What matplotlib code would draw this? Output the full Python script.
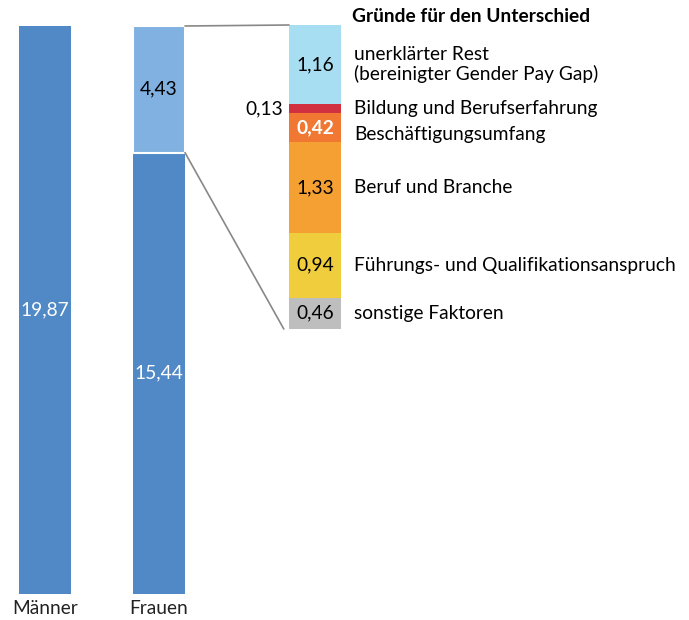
import matplotlib
matplotlib.use("Agg")
import matplotlib.pyplot as plt
from matplotlib.patches import ConnectionPatch

plt.rcParams['font.family'] = ['Lato', 'DejaVu Sans']

# data
groups = ["Männer", "Frauen"]
maenner = 19.87
frauen_basis = 15.44
frauen_luecke = 4.43

# bottom -> top
gruende = ["sonstige Faktoren",
           "Führungs- und Qualifikationsanspruch",
           "Beruf und Branche",
           "Beschäftigungsumfang",
           "Bildung und Berufserfahrung",
           "unerklärter Rest\n(bereinigter Gender Pay Gap)"]
gruende_werte = [0.46, 0.94, 1.33, 0.42, 0.13, 1.16]
gruende_farben = ["#bebebe", "#efcd3c", "#f5a033", "#f07832", "#d03040", "#a8def2"]
label_farben = ["black", "black", "black", "white", "black", "black"]

W, H = 689, 620
fig = plt.figure(figsize=(W / 100, H / 100), dpi=100)

# main bars
bw = 52 / 114
ax = fig.add_axes([19 / W, (H - 594) / H, (185 - 19) / W, 568 / H])
ax.set_xlim(-bw / 2, 1 + bw / 2)
ax.set_ylim(0, maenner)
ax.axis("off")

ax.bar(0, maenner, width=bw, color="#5089c6")
ax.bar(1, frauen_basis, width=bw, color="#5089c6")
ax.bar(1, frauen_luecke, bottom=frauen_basis, width=bw, color="#80b1e0",
       edgecolor="white", linewidth=1.5)

fmt = lambda v: f"{v:.2f}".replace(".", ",")
fs = 13.8
ax.text(0, maenner / 2, fmt(maenner), color="white", ha="center", va="center", fontsize=fs)
ax.text(1, frauen_basis / 2, fmt(frauen_basis), color="white", ha="center", va="center", fontsize=fs)
ax.text(1, frauen_basis + frauen_luecke / 2, fmt(frauen_luecke), color="black",
        ha="center", va="center", fontsize=fs)
for i, g in enumerate(groups):
    ax.text(i, -0.22, g, ha="center", va="top", fontsize=fs, color="#222222")

# breakdown bar
total = sum(gruende_werte)
ax2 = fig.add_axes([289 / W, (H - 329) / H, 52 / W, 304 / H])
ax2.set_xlim(-0.5, 0.5)
ax2.set_ylim(0, total)
ax2.axis("off")

offsets = [0, 0, 0, -5, 0, 0]
bottom = 0
for name, v, c, lc, off in zip(gruende, gruende_werte, gruende_farben, label_farben, offsets):
    ax2.bar(0, v, bottom=bottom, width=1, color=c)
    mid = bottom + v / 2
    if v < 0.2:
        ax2.text(-0.62, mid, fmt(v), ha="right", va="center", fontsize=fs)
    else:
        ax2.text(0, mid, fmt(v), ha="center", va="center", fontsize=fs, color=lc,
                 fontweight="bold" if lc == "white" else "normal")
    ax2.annotate(name, (0.75, mid), xytext=(0, off), textcoords="offset points",
                 ha="left", va="center", fontsize=fs, linespacing=1.15,
                 annotation_clip=False)
    bottom += v

ax2.text(0.71, total + 0.117, "Gründe für den Unterschied", ha="left", va="center",
         fontsize=fs, fontweight="bold")

# connector lines
for ya, yb, xb in [(maenner, total, -0.5), (frauen_basis, 0, -0.6)]:
    con = ConnectionPatch(xyA=(1 + bw / 2, ya), coordsA=ax.transData,
                          xyB=(xb, yb), coordsB=ax2.transData,
                          color="#888888", linewidth=1.2)
    fig.add_artist(con)

fig.savefig("out.png", dpi=100)
